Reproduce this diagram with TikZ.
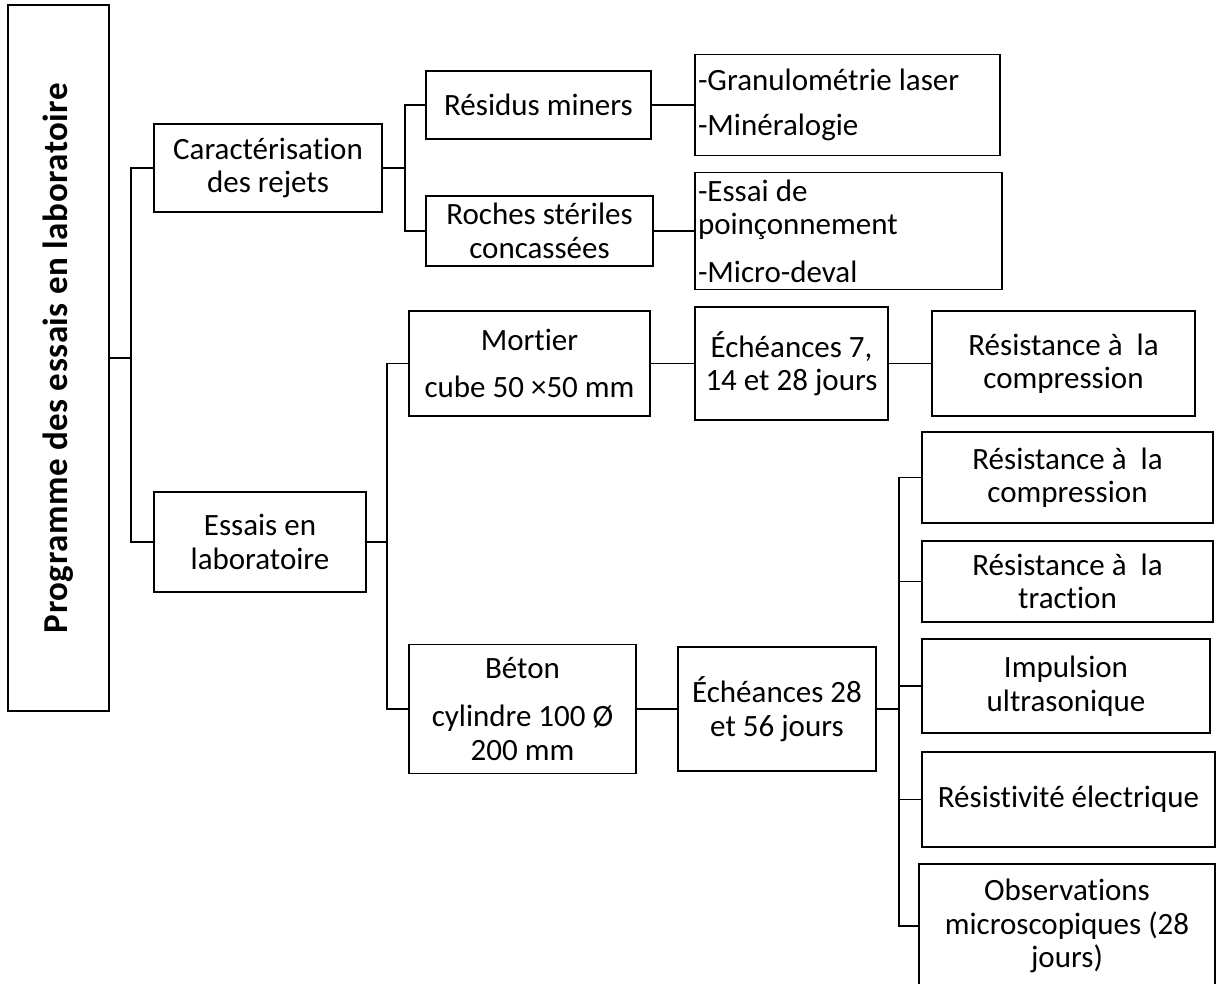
\documentclass[tikz,border=0pt]{standalone}
\usepackage{fontspec}
\setmainfont{Carlito}[Ligatures=NoCommon]
\usepackage{graphicx}
\usetikzlibrary{calc}

\begin{document}
\begin{tikzpicture}[x=1pt,y=-1pt]
% % Styles
 \tikzset{
 	box/.style={draw, line width=1.8pt, inner sep=3pt, align=center, font=\fontsize{31}{33.5}\selectfont},
 	listbox/.style={box, align=flush left},
 	link/.style={line width=1.8pt}
 }
 \useasboundingbox (0,0) rectangle (1216,984);
% % Main box
 \node[box, minimum width=101, minimum height=706] (prog) at (58.5,358) {\rotatebox{90}{\fontsize{35}{38}\selectfont\bfseries\addfontfeature{LetterSpace=1.5}Programme des essais en laboratoire}};
% % First level
 \node[box, minimum width=228, minimum height=88] (car) at (268,168) {Caractérisation\\des rejets};
 \node[box, minimum width=212, minimum height=100] (ess) at (260,542) {Essais en\\laboratoire};
% % Rejets
 \node[box, minimum width=225, minimum height=68] (res) at (538.5,105) {Résidus miners};
 \node[box, minimum width=227, minimum height=70] (roc) at (539.5,231) {Roches stériles\\concassées};
 \node[listbox, text width=299, minimum height=101] (gra) at (847.5,105) {-Granulométrie laser\\[12pt]-Minéralogie};
 \node[listbox, text width=301, minimum height=117] (esa) at (848.5,231) {-Essai de\\poinçonnement\\[14pt]-Micro-deval};
% % Mortier
 \node[box, minimum width=241, minimum height=105] (mor) at (529.5,363.5) {Mortier\\[14pt]cube 50 ×50 mm};
 \node[box, minimum width=193, minimum height=113] (ech1) at (791.5,363.5) {Échéances 7,\\14 et 28 jours};
 \node[box, minimum width=263, minimum height=105] (rc1) at (1063.5,363.5) {Résistance à~ la\\compression};
% % Beton
 \node[box, minimum width=227, minimum height=129] (bet) at (522.5,709) {Béton\\[15pt]cylindre 100 Ø\\200 mm};
 \node[box, minimum width=198, minimum height=124] (ech2) at (777,709) {Échéances 28\\et 56 jours};
 \node[box, minimum width=291, minimum height=91] (rc2) at (1067.5,477.5) {Résistance à~ la\\compression};
 \node[box, minimum width=291, minimum height=81] (rt) at (1067.5,581.5) {Résistance à~ la\\traction};
 \node[box, minimum width=288, minimum height=94] (imp) at (1066,686) {Impulsion\\ultrasonique};
 \node[box, minimum width=293, minimum height=95] (rsv) at (1068.5,799.5) {Résistivité électrique};
 \node[box, minimum width=296, minimum height=124] (obs) at (1067,926) {Observations\\microscopiques (28\\jours)};
% % Connectors
 \coordinate (j1) at (131,358);
 \coordinate (j2) at (405,168);
 \coordinate (j3) at (387,542);
 \coordinate (j4) at (899,709);
 \draw[link] (prog.east) -- (j1);
 \draw[link] (car.west) -| (j1);
 \draw[link] (ess.west) -| (j1);
 \draw[link] (car.east) -- (j2);
 \draw[link] (res.west) -| (j2);
 \draw[link] (roc.west) -| (j2);
 \draw[link] (res.east) -- (gra.west);
 \draw[link] (roc.east) -- (esa.west);
 \draw[link] (ess.east) -- (j3);
 \draw[link] (mor.west) -| (j3);
 \draw[link] (bet.west) -| (j3);
 \draw[link] (mor.east) -- (ech1.west);
 \draw[link] (ech1.east) -- (rc1.west);
 \draw[link] (bet.east) -- (ech2.west);
 \draw[link] (ech2.east) -- (j4);
 \draw[link] (rc2.west) -| (j4);
 \draw[link] (rt.west) -| (j4);
 \draw[link] (imp.west) -| (j4);
 \draw[link] (rsv.west) -| (j4);
 \draw[link] (obs.west) -| (j4);
\end{tikzpicture}
\end{document}
